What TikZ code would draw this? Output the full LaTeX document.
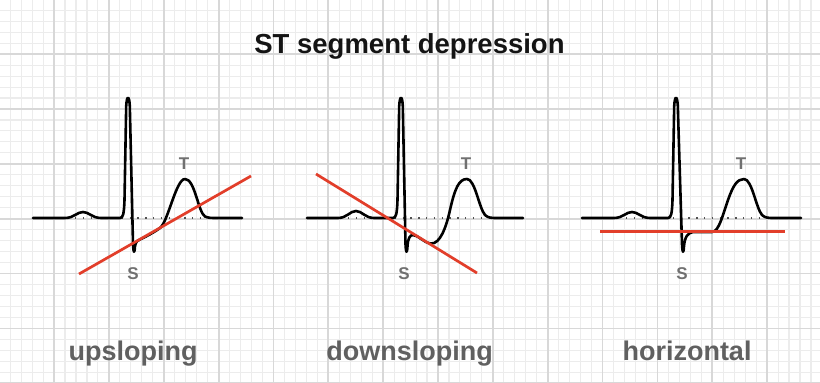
\documentclass[tikz,border=0pt]{standalone}
\usepackage{fontspec}
\setmainfont{Liberation Sans}
\definecolor{gridmajor}{RGB}{216,216,216}
\definecolor{gridminor}{RGB}{236,236,236}
\definecolor{stred}{RGB}{226,62,42}
\definecolor{lblgray}{RGB}{96,96,96}
\definecolor{wavegray}{RGB}{112,112,112}
\definecolor{dotgray}{RGB}{80,80,80}
\tikzset{
  ecg/.style={line width=2.6pt, black, line join=round, line cap=round},
  stline/.style={line width=2.7pt, stred},
  baseln/.style={line width=1.5pt, dotgray, dash pattern=on 1.4pt off 6.4pt},
  panellbl/.style={anchor=base, text=lblgray, font=\fontsize{27}{30}\selectfont\bfseries, inner sep=0pt},
  wavelbl/.style={anchor=base, text=wavegray, font=\fontsize{17}{19}\selectfont\bfseries, inner sep=0pt},
  titlelbl/.style={anchor=base, text=black!92, font=\fontsize{27.5}{30}\selectfont\bfseries, inner sep=0pt}
}
\begin{document}
\begin{tikzpicture}[x=1pt,y=-1pt]
\useasboundingbox (0,0) rectangle (820,383);
\fill[white] (0,0) rectangle (820,383);
% grid
\foreach \i in {0,...,75}{
  \draw[gridminor, line width=1.1pt] ({\i*10.97-0.8},0) -- ({\i*10.97-0.8},383);
}
\foreach \i in {0,...,35}{
  \draw[gridminor, line width=1.1pt] (0,{\i*10.97-0.7}) -- (820,{\i*10.97-0.7});
}
\foreach \i in {0,...,15}{
  \draw[gridmajor, line width=1.8pt] ({\i*54.85-0.8},0) -- ({\i*54.85-0.8},383);
}
\foreach \i in {0,...,7}{
  \draw[gridmajor, line width=1.8pt] (0,{\i*54.85-0.7}) -- (820,{\i*54.85-0.7});
}

% title
\node[titlelbl] (title) at (409.5,53) {ST segment depression};

% ---------- panel 1 : upsloping ----------
\draw[baseln] (75,218) -- (205,218);
\draw[ecg] (33,218) -- (65,218) .. controls (74,218) and (77,212) .. (83,212)
  .. controls (89,212) and (92,218) .. (101,218) -- (120,218)
  .. controls (123,218) and (124,214) .. (124.5,200) -- (126.2,106)
  .. controls (126.8,95) and (129.2,95) .. (129.8,106) -- (133,244)
  .. controls (133.4,254) and (134.6,254) .. (135,246)
  .. controls (136,241) and (138,240) .. (140,239.5)
  .. controls (147,236) and (153,233) .. (160,228)
  .. controls (168,222) and (176,179) .. (185,179)
  .. controls (195,179) and (198,212) .. (205,216.5)
  .. controls (208,218) and (212,218) .. (216,218) -- (242,218);
\coordinate (up1) at (79,274);
\coordinate (up2) at (251,176);
\draw[stline] (up1) -- (up2);
\node[wavelbl] (s1) at (133,279) {S};
\node[wavelbl] (t1) at (184,169) {T};
\node[panellbl] (lab1) at (133,360) {upsloping};

% ---------- panel 2 : downsloping ----------
\draw[baseln] (348,218) -- (488,218);
\draw[ecg] (307,218) -- (338,218) .. controls (347,218) and (350,211) .. (356,211)
  .. controls (362,211) and (365,218) .. (374,218) -- (393,218)
  .. controls (396,218) and (397,214) .. (397.5,200) -- (399.2,106)
  .. controls (399.8,95) and (402.2,95) .. (402.8,106) -- (405.5,244)
  .. controls (405.9,254) and (407.1,254) .. (407.5,246)
  .. controls (408,238) and (410,235) .. (413,235)
  .. controls (418,235) and (424,243) .. (431,243.5)
  .. controls (440,244) and (446,228) .. (450,210)
  .. controls (455,188) and (459,179) .. (467,179)
  .. controls (475,179) and (479,208) .. (485,215)
  .. controls (488,218) and (492,218) .. (497,218) -- (523,218);
\coordinate (dn1) at (316,174);
\coordinate (dn2) at (477,273);
\draw[stline] (dn1) -- (dn2);
\node[wavelbl] (s2) at (404,279) {S};
\node[wavelbl] (t2) at (466,169) {T};
\node[panellbl] (lab2) at (409.5,360) {downsloping};

% ---------- panel 3 : horizontal ----------
\draw[baseln] (626,218) -- (760,218);
\draw[ecg] (582,218) -- (614,218) .. controls (623,218) and (626,212) .. (632,212)
  .. controls (638,212) and (641,218) .. (650,218) -- (668,218)
  .. controls (671,218) and (672,214) .. (672.5,200) -- (674.2,106)
  .. controls (674.8,95) and (677.2,95) .. (677.8,106) -- (682,244)
  .. controls (682.4,254) and (683.6,254) .. (684,246)
  .. controls (685,236) and (688,233) .. (693,232) -- (712,232)
  .. controls (719,232) and (723,214) .. (728,200)
  .. controls (733,186) and (737,179) .. (744,179)
  .. controls (752,179) and (756,208) .. (762,215)
  .. controls (765,218) and (769,218) .. (774,218) -- (801,218);
\coordinate (hz1) at (600,231.7);
\coordinate (hz2) at (785,231.7);
\draw[stline] (hz1) -- (hz2);
\node[wavelbl] (s3) at (682,279) {S};
\node[wavelbl] (t3) at (741,169) {T};
\node[panellbl] (lab3) at (687,360) {horizontal};
\end{tikzpicture}
\end{document}
